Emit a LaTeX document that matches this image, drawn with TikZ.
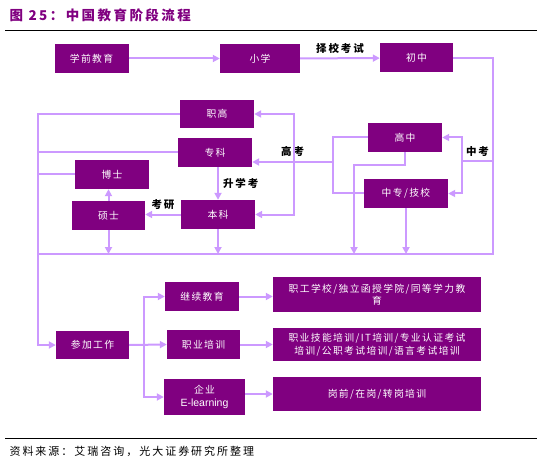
\documentclass[tikz,border=0pt]{standalone}
\usepackage{fontspec}
\setmainfont{Noto Sans CJK SC}
\newfontfamily\latinfont{Liberation Sans}
\newfontfamily\boxfont[LetterSpace=14]{Noto Sans CJK SC}
\newfontfamily\spacedfont[LetterSpace=18]{Noto Sans CJK SC}
\usetikzlibrary{arrows.meta,positioning,calc}
\definecolor{stagepurple}{RGB}{128,0,128}
\definecolor{flowlilac}{RGB}{204,153,255}

\begin{document}
\begin{tikzpicture}[x=1pt,y=-1pt,
      stage/.style={fill=stagepurple, text=white, minimum width=74pt, minimum height=29pt, inner sep=1pt, align=center, font=\boxfont\fontsize{9.8}{12.5}\selectfont},
      wide/.style={stage, minimum width=208pt, minimum height=34pt},
      flow/.style={draw=flowlilac, line width=2pt, -{Triangle[length=7pt,width=7pt]}},
      link/.style={draw=flowlilac, line width=2pt},
      tag/.style={font=\spacedfont\fontsize{10.5}{12}\selectfont\bfseries, text=black, inner sep=1pt}
    ]
    \useasboundingbox (0,0) rectangle (543,465);

    \node[anchor=west, text=stagepurple, font=\spacedfont\fontsize{13.5}{15}\selectfont\bfseries] (title) at (6,15) {图 25：中国教育阶段流程};
    \draw[line width=1pt] (5,31) -- (537,31);
    \draw[line width=1pt] (5,438) -- (537,438);
    \node[anchor=west, font=\spacedfont\fontsize{11}{12}\selectfont] (source) at (6,451) {资料来源：艾瑞咨询，光大证券研究所整理};

    \node[stage] (pre) at (91.5,58.5) {学前教育};
    \node[stage, minimum width=80pt] (prim) at (260,58.5) {小学};
    \node[stage, minimum width=73pt] (junior) at (416.5,58) {初中};

    \node[stage, minimum height=28pt] (zhigao) at (217,114) {职高};
    \node[stage] (zhuanke) at (215,152.5) {专科};
    \node[stage] (boshi) at (112,174.5) {博士};
    \node[stage, minimum width=73pt] (shuoshi) at (108.5,215.5) {硕士};
    \node[stage] (benke) at (218,214.5) {本科};

    \node[stage] (gaozhong) at (405,137.5) {高中};
    \node[stage, minimum width=84pt] (zhongzhuan) at (406,193.5) {中专/技校};

    \node[stage, minimum width=73pt, minimum height=28pt] (work) at (92.5,345) {参加工作};
    \node[stage] (cont) at (202,296.5) {继续教育};
    \node[stage, minimum width=73pt] (train) at (203.5,344.5) {职业培训};
    \node[stage, minimum width=81pt, minimum height=36pt] (elearn) at (204.5,397) {企业\\{\latinfont\fontsize{10.5}{12}\selectfont E-learning}};

    \node[wide, minimum height=35pt] (r1) at (377,294.5) {职工学校/独立函授学院/同等学力教\\育};
    \node[wide, minimum height=33pt] (r2) at (377,344.5) {职业技能培训/IT培训/专业认证考试\\培训/公职考试培训/语言考试培训};
    \node[wide] (r3) at (377,394) {岗前/在岗/转岗培训};

    \coordinate (lt) at (38,114);
    \coordinate (bl) at (38,254);
    \coordinate (br) at (493,254);
    \coordinate (zk) at (462,161);
    \coordinate (gk) at (333,162);
    \coordinate (gd) at (294,162);
    \coordinate (gz) at (354,165);
    \coordinate (wb) at (144,345);

    % top row
    \draw[flow] (pre) -- (prim);
    \draw[flow] (prim) -- node[tag, above=3pt] (zexiao) {择校考试} (junior);
    \draw[link] (junior.east) -| (br) -- (bl);

    % zhongkao
    \draw[link] (zk -| br) -- node[tag, above=2pt] (zhongkao) {中考} (zk);
    \draw[flow] (zk) |- (gaozhong.east);
    \draw[flow] (zk) |- (zhongzhuan.east);

    % gaokao
    \draw[link] (gaozhong.west) -| (gk);
    \draw[link] (zhongzhuan.west) -| (gk);
    \draw[flow] (gk) -- node[tag, above=3pt] (gaokao) {高考} (gk -| zhuanke.east);
    \draw[flow] (gd) |- (zhigao.east);
    \draw[flow] (gd) |- (benke.east);
    \draw[flow] (gaozhong.south) |- (gz) -- (gz |- bl);
    \draw[flow] (zhongzhuan.south) -- (zhongzhuan.south |- bl);

    % higher education
    \draw[flow] (zhuanke.south -| benke) -- node[tag, right=3pt] (shengxue) {升学考} (benke.north);
    \draw[flow] (benke.west) -- node[tag, above=3pt] (kaoyan) {考研} (benke.west -| shuoshi.east);
    \draw[flow] (shuoshi.north) -- (shuoshi.north |- boshi.south);
    \draw[flow] (shuoshi.south) -- (shuoshi.south |- bl);
    \draw[flow] (benke.south) -- (benke.south |- bl);

    % into work
    \draw[flow] (zhigao.west) -- (lt) |- (work.west);
    \draw[link] (zhuanke.west) -- (zhuanke.west -| lt);
    \draw[link] (boshi.west) -- (boshi.west -| lt);

    % after work
    \draw[flow] (work.east) -- (train.west);
    \draw[flow] (wb) |- (cont.west);
    \draw[flow] (wb) |- (elearn.west);
    \draw[flow] (cont.east) -- (cont.east -| r1.west);
    \draw[flow] (train.east) -- (train.east -| r2.west);
    \draw[flow] (elearn.east |- r3) -- (r3.west);
  \end{tikzpicture}
\end{document}
